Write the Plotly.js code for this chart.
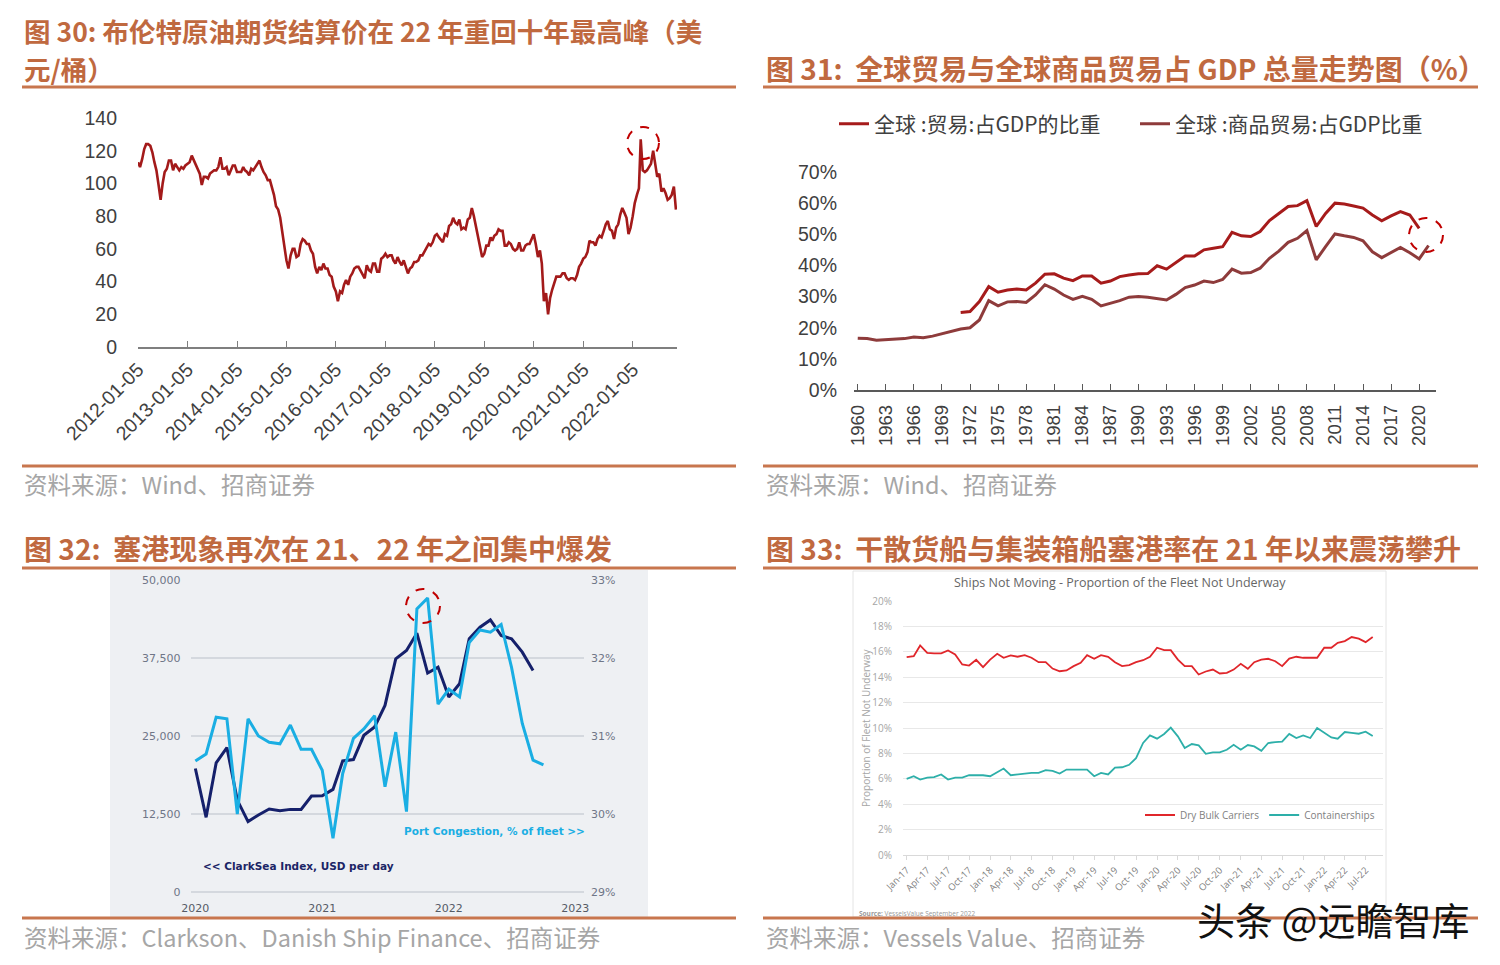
<!DOCTYPE html>
<html><head><meta charset="utf-8">
<script src="https://cdn.plot.ly/plotly-3.0.1.min.js"></script>
<style>html,body{margin:0;padding:0;background:#fff;} #chart{width:1500px;height:965px;}</style>
</head><body><div id="chart"></div>
<script>
// ---------- Panel 1: Brent futures settlement (USD/bbl), values on the 5th and 20th of each month ----------
const brent2012 = [113,110,115,121,124,124,123,119,113,108,99,90,100,107,109,114,114,108,112,110,108,110,109,111];
const brent2013 = [112,113,117,114,111,108,106,99,104,104,103,106,107,108,108,110,116,109,109,110,105,108,111,111];
const brent2014 = [107,107,107,110,108,107,105,109,108,110,112,114,110,107,105,102,102,98,93,86,84,79,70,60];
const brent2015 = [53,48,56,60,60,55,56,63,66,65,63,63,59,57,49,45,49,47,51,48,48,44,43,37];
const brent2016 = [34,28,34,33,38,41,38,43,45,48,49,49,47,45,42,50,47,46,51,51,46,46,54,55];
const brent2017 = [57,55,56,56,53,51,55,52,50,53,49,45,48,49,52,52,53,56,56,58,61,63,62,64];
const brent2018 = [68,69,67,65,64,69,68,74,75,79,76,75,78,72,73,72,78,79,85,80,73,67,60,55];
const brent2019 = [57,62,62,67,65,68,69,72,71,71,62,62,64,63,60,59,60,64,59,59,62,63,63,66];
const brent2020 = [69,63,55,59,51,28,33,20,30,35,40,43,43,43,45,45,42,41,42,42,41,44,49,51];
const brent2021 = [54,55,58,65,64,64,62,66,68,67,71,75,77,72,71,66,73,75,81,85,82,79,69,73];
const brent2022 = [80,88,93,97,127,108,107,108,110,112,120,111,104,106,95,97,94,90,91,93,98,84];
const brentFirstYear = 2012;
const brentTickLabels = ['2012-01-05','2013-01-05','2014-01-05','2015-01-05','2016-01-05','2017-01-05','2018-01-05','2019-01-05','2020-01-05','2021-01-05','2022-01-05'];

// ---------- Panel 2: world trade share of GDP (%) ----------
const tradeFirstYear = 1971;
const tradeShare = [24.9,25.2,28.4,33.2,31.4,32.1,32.4,32.1,34.3,37.2,
  37.3,35.9,35.1,36.6,36.6,34.3,35.0,36.4,36.9,37.3,
  37.4,39.9,38.8,40.9,43.0,43.0,45.0,45.5,46.0,50.6,
  49.5,49.3,50.9,54.4,56.7,58.9,59.2,60.8,52.5,56.7,
  60.0,59.7,59.1,58.4,56.2,54.3,55.9,57.3,56.2,51.9];
const merchFirstYear = 1960;
const merchShare = [16.6,16.5,16.0,16.2,16.5,16.5,17.0,16.8,17.3,18.0,
  18.7,19.6,20.0,22.5,28.7,27.0,28.3,28.4,28.1,30.5,
  33.8,32.4,30.5,29.1,30.1,29.1,27.0,27.8,28.7,29.8,
  30.0,29.8,29.4,28.9,30.7,32.9,33.7,35.0,34.5,35.5,
  38.8,37.5,37.7,39.1,42.3,44.6,47.4,48.7,51.2,41.8,
  46.0,50.1,49.5,49.0,47.9,44.4,42.5,44.1,45.8,44.1,
  42.1,46.4];
const tradeTickYears = [1960,1963,1966,1969,1972,1975,1978,1981,1984,1987,1990,1993,1996,1999,2002,2005,2008,2011,2014,2017,2020];
const tradeNames = ['全球 :贸易:占GDP的比重','全球 :商品贸易:占GDP比重'];

// ---------- Panel 3: ClarkSea index & port congestion, monthly from Jan 2020 ----------
const clarkSea = [19790,11970,20690,23140,14730,11280,12340,13300,13030,13240,13240,15370,
  15430,16440,21010,21220,25110,26440,29900,37370,38700,41470,35080,36030,
  31240,33370,40570,42430,43600,41100,40570,38440,35500];
const congestion = [30.68,30.77,31.24,31.22,30.0,31.22,31.0,30.92,30.9,31.14,30.83,30.83,
  30.56,29.69,30.52,30.97,31.09,31.26,30.35,31.05,30.03,32.63,32.77,31.41,
  31.6,31.5,32.2,32.36,32.33,32.43,31.88,31.16,30.69,30.63];
const p3Years = ['2020','2021','2022','2023'];
const leftTicks = [0,12500,25000,37500,50000];

// ---------- Panel 4: ships not moving (% of fleet), monthly from Jan 2017 ----------
const dryBulk = [15.58,15.66,16.5,15.92,15.87,15.87,16.1,15.79,15.0,14.92,
  15.37,14.79,15.39,15.84,15.53,15.71,15.61,15.74,15.53,15.18,
  15.18,14.68,14.47,14.53,14.87,15.13,15.74,15.45,15.74,15.61,
  15.18,14.87,14.95,15.18,15.34,15.61,16.32,16.13,16.13,15.39,
  14.87,14.87,14.21,14.45,14.6,14.29,14.34,14.6,15.05,14.66,
  15.18,15.39,15.45,15.26,14.87,15.47,15.61,15.53,15.53,15.53,
  16.32,16.32,16.71,16.84,17.16,17.03,16.76,17.17];
const containers = [6.0,6.2,5.94,6.1,6.13,6.34,5.94,6.1,6.1,6.28,
  6.28,6.28,6.2,6.52,6.81,6.28,6.34,6.44,6.47,6.47,
  6.68,6.62,6.41,6.73,6.73,6.75,6.73,6.2,6.47,6.34,
  6.88,6.91,7.1,7.63,8.82,9.42,9.16,9.53,10.03,9.34,
  8.42,8.74,8.63,7.97,8.08,8.08,8.29,8.68,8.29,8.66,
  8.55,8.21,8.82,8.89,8.92,9.53,9.21,9.42,9.21,10.0,
  9.66,9.26,9.16,9.68,9.61,9.55,9.71,9.37];
const monthNames = ['Jan','Feb','Mar','Apr','May','Jun','Jul','Aug','Sep','Oct','Nov','Dec'];

// ---------- build x arrays ----------
const pad = n => String(n).padStart(2,'0');
const brentSeries = [brent2012,brent2013,brent2014,brent2015,brent2016,brent2017,brent2018,brent2019,brent2020,brent2021,brent2022];
const brentDates = [], brentValues = [];
brentSeries.forEach((arr,i)=>{ const yr = brentFirstYear+i;
  arr.forEach((v,j)=>{ brentDates.push(yr+'-'+pad(Math.floor(j/2)+1)+'-'+(j%2===0?'05':'20')); brentValues.push(v); }); });
const tradeYears = tradeShare.map((_,i)=>tradeFirstYear+i);
const merchYears = merchShare.map((_,i)=>merchFirstYear+i);
const monthDate = (y0,k)=> (y0+Math.floor(k/12))+'-'+pad(k%12+1)+'-01';
const clarkDates = clarkSea.map((_,k)=>monthDate(2020,k));
const congDates = congestion.map((_,k)=>monthDate(2020,k));
const p4Dates = dryBulk.map((_,k)=>monthDate(2017,k));
const p4TickVals = [], p4TickText = [];
for (let k=0;k<p4Dates.length;k+=3){ p4TickVals.push(p4Dates[k]); p4TickText.push(monthNames[k%12]+'-'+pad((17+Math.floor(k/12))%100)); }

// ---------- geometry helpers (page pixels -> paper) ----------
const W=1500, H=965;
const px = x => x/W, py = y => 1 - y/H;

const TITLE = '#C0693F', RULE = '#C8764E', FOOT = '#A6A6A6';
const CJK = 'Noto Sans CJK SC';

const traces = [
  {x: brentDates, y: brentValues, type:'scatter', mode:'lines', xaxis:'x', yaxis:'y',
   line:{color:'#A31A1A', width:2.6}, showlegend:false, name:'布伦特原油期货结算价'},
  {x: tradeYears, y: tradeShare, type:'scatter', mode:'lines', xaxis:'x2', yaxis:'y2',
   line:{color:'#A61B1B', width:3}, name: tradeNames[0], legend:'legend'},
  {x: merchYears, y: merchShare, type:'scatter', mode:'lines', xaxis:'x2', yaxis:'y2',
   line:{color:'#8E3B3B', width:3}, name: tradeNames[1], legend:'legend'},
  {x: congDates, y: congestion, type:'scatter', mode:'lines', xaxis:'x3', yaxis:'y4',
   line:{color:'#1AAEE3', width:3}, showlegend:false, name:'Port Congestion, % of fleet'},
  {x: clarkDates, y: clarkSea, type:'scatter', mode:'lines', xaxis:'x3', yaxis:'y3',
   line:{color:'#15206B', width:3}, showlegend:false, name:'ClarkSea Index, USD per day'},
  {x: p4Dates, y: dryBulk, type:'scatter', mode:'lines', xaxis:'x4', yaxis:'y5',
   line:{color:'#E0262B', width:1.8}, name:'Dry Bulk Carriers', legend:'legend2'},
  {x: p4Dates, y: containers, type:'scatter', mode:'lines', xaxis:'x4', yaxis:'y5',
   line:{color:'#2DAFA9', width:1.8}, name:'Containerships', legend:'legend2'}
];

const rule = (x0,x1,y) => ({type:'line', xref:'paper', yref:'paper', x0:px(x0), x1:px(x1), y0:py(y), y1:py(y), line:{color:RULE, width:3}});
const circle = (cx,cy,r) => ({type:'circle', xref:'paper', yref:'paper', x0:px(cx-r), x1:px(cx+r), y0:py(cy+r), y1:py(cy-r), line:{color:'#C00000', width:2, dash:'dash'}});

const shapes = [
  {type:'rect', xref:'paper', yref:'paper', x0:px(110), x1:px(648), y0:py(917), y1:py(570), fillcolor:'#EEF0F3', line:{width:0}, layer:'below'},
  {type:'rect', xref:'paper', yref:'paper', x0:px(853), x1:px(1386), y0:py(917), y1:py(571), fillcolor:'rgba(0,0,0,0)', line:{width:1, color:'#E4E4E4'}, layer:'below'},
  rule(22,736,87), rule(763,1478,87), rule(22,736,466), rule(763,1478,466),
  rule(22,736,568), rule(763,1478,568), rule(22,736,918), rule(763,1478,918),
  circle(643,143,16), circle(1426,235,17), circle(423,606,17)
];

const ann = (text,x,y,opts) => Object.assign({text, x:px(x), y:py(y), xref:'paper', yref:'paper', showarrow:false, xanchor:'left', yanchor:'middle'}, opts);
const titleFont = {family:CJK, size:28, color:TITLE};
const title1Font = {family:CJK, size:26.5, color:TITLE};
const footFont = {family:CJK, size:23.5, color:FOOT};
const annotations = [
  ann('<b>图 30: 布伦特原油期货结算价在 22 年重回十年最高峰（美</b>',22,30.5,{font:title1Font}),
  ann('<b>元/桶）</b>',22,69,{font:title1Font}),
  ann('<b>图 31:  全球贸易与全球商品贸易占 GDP 总量走势图（%）</b>',764,68,{font:titleFont}),
  ann('<b>图 32:  塞港现象再次在 21、22 年之间集中爆发</b>',22,548,{font:titleFont}),
  ann('<b>图 33:  干散货船与集装箱船塞港率在 21 年以来震荡攀升</b>',764,548,{font:titleFont}),
  ann('资料来源：Wind、招商证券',22,484,{font:footFont}),
  ann('资料来源：Wind、招商证券',764,484,{font:footFont}),
  ann('资料来源：Clarkson、Danish Ship Finance、招商证券',22,937,{font:footFont}),
  ann('资料来源：Vessels Value、招商证券',764,937,{font:footFont}),
  ann('<b>Port Congestion, % of fleet >></b>',587,831,{xanchor:'right', font:{family:'DejaVu Sans', size:10.5, color:'#1AAEE3'}}),
  ann('<b><< ClarkSea Index, USD per day</b>',201,866,{font:{family:'DejaVu Sans', size:10.5, color:'#1B2566'}}),
  ann('Ships Not Moving - Proportion of the Fleet Not Underway',1120,582,{xanchor:'center', font:{family:'Open Sans', size:12.5, color:'#666666'}}),
  ann('Proportion of Fleet Not Underway',866,728,{xanchor:'center', textangle:-90, font:{family:'Open Sans', size:10, color:'#A6A6A6'}}),
  ann('<b>Source:</b> VesselsValue September 2022',857,913,{font:{family:'Open Sans', size:6.5, color:'#9A9A9A'}}),
  ann('头条 @远瞻智库',1195,918,{font:{family:CJK, size:38, color:'#111111'}})
];

const gray = '#404040';
const layout = {
  width:W, height:H, autosize:false,
  margin:{l:0,r:0,t:0,b:0},
  paper_bgcolor:'#ffffff', plot_bgcolor:'rgba(0,0,0,0)',
  font:{family:'Liberation Sans', color:gray},
  hovermode:false,
  showlegend:true,
  // Panel 1
  xaxis:{domain:[px(138),px(677)], anchor:'y', type:'date', range:['2012-01-05','2022-11-28'],
    tickvals:brentTickLabels, ticktext:brentTickLabels, tickangle:-45,
    ticks:'inside', ticklen:6, tickcolor:'#7F7F7F', showline:true, linecolor:'#7F7F7F', linewidth:1.5,
    showgrid:false, zeroline:false, tickfont:{family:'Liberation Sans', size:19.5, color:gray}, ticklabelstandoff:2},
  yaxis:{domain:[py(347),py(118)], anchor:'x', range:[0,140], dtick:20, showgrid:false, zeroline:false,
    showline:false, ticks:'', tickfont:{family:'Liberation Sans', size:19.5, color:gray}, ticklabelstandoff:20},
  // Panel 2
  xaxis2:{domain:[px(854),px(1436)], anchor:'y2', range:[1959.6,2021.8], tickvals:tradeTickYears,
    ticktext:tradeTickYears.map(String), tickangle:-90,
    ticks:'inside', ticklen:6, tickcolor:'#595959', showline:true, linecolor:'#595959', linewidth:1.5,
    showgrid:false, zeroline:false, tickfont:{family:'Liberation Sans', size:18.5, color:gray}, ticklabelstandoff:6},
  yaxis2:{domain:[py(390),py(172)], anchor:'x2', range:[0,70], dtick:10, ticksuffix:'%', showgrid:false,
    zeroline:false, showline:false, ticks:'', tickfont:{family:'Liberation Sans', size:19.5, color:gray}, ticklabelstandoff:16},
  // Panel 3
  xaxis3:{domain:[px(190.5),px(584)], anchor:'y3', type:'date', range:['2019-12-18','2023-01-26'],
    tickvals:p3Years.map(y=>y+'-01-01'), ticktext:p3Years, showgrid:false, zeroline:false, showline:false, ticks:'',
    tickfont:{family:'DejaVu Sans', size:11, color:'#555B66'}, ticklabelstandoff:8},
  yaxis3:{domain:[py(892),py(580)], anchor:'x3', range:[0,50000], tickvals:leftTicks, tickformat:',',
    showgrid:true, gridcolor:'#D4D8DE', gridwidth:1.5, zeroline:true, zerolinecolor:'#D4D8DE', zerolinewidth:1.5,
    showline:false, ticks:'', tickfont:{family:'DejaVu Sans', size:11, color:'#6F7687'}, ticklabelstandoff:9},
  yaxis4:{overlaying:'y3', side:'right', anchor:'x3', range:[29,33], dtick:1, ticksuffix:'%', showgrid:false,
    zeroline:false, showline:false, ticks:'', tickfont:{family:'DejaVu Sans', size:11, color:'#6F7687'}, ticklabelstandoff:6},
  // Panel 4
  xaxis4:{domain:[px(903),px(1383)], anchor:'y5', type:'date', range:['2016-12-16','2022-09-15'],
    tickvals:p4TickVals, ticktext:p4TickText, tickangle:-45, showgrid:false, zeroline:false,
    showline:true, linecolor:'#D9D9D9', ticks:'outside', ticklen:4, tickcolor:'#D9D9D9',
    tickfont:{family:'Open Sans', size:9.5, color:'#7F7F7F'}, ticklabelstandoff:1},
  yaxis5:{domain:[py(855),py(601)], anchor:'x4', range:[0,20], dtick:2, ticksuffix:'%',
    showgrid:true, gridcolor:'#E8E8E8', zeroline:true, zerolinecolor:'#E8E8E8', showline:false, ticks:'',
    tickfont:{family:'Open Sans', size:10, color:'#A6A6A6'}, ticklabelstandoff:10},
  legend:{orientation:'h', x:px(834), y:py(124), xanchor:'left', yanchor:'middle', bgcolor:'rgba(0,0,0,0)',
    entrywidth:256, entrywidthmode:'pixels',
    font:{family:CJK, size:21, color:gray}, itemclick:false, itemdoubleclick:false},
  legend2:{orientation:'h', x:px(1140), y:py(815), xanchor:'left', yanchor:'middle', bgcolor:'rgba(0,0,0,0)',
    font:{family:'Open Sans', size:10, color:'#7F7F7F'}, itemclick:false, itemdoubleclick:false},
  shapes, annotations
};

Plotly.newPlot('chart', traces, layout, {staticPlot:true, displayModeBar:false});
</script>
</body></html>
